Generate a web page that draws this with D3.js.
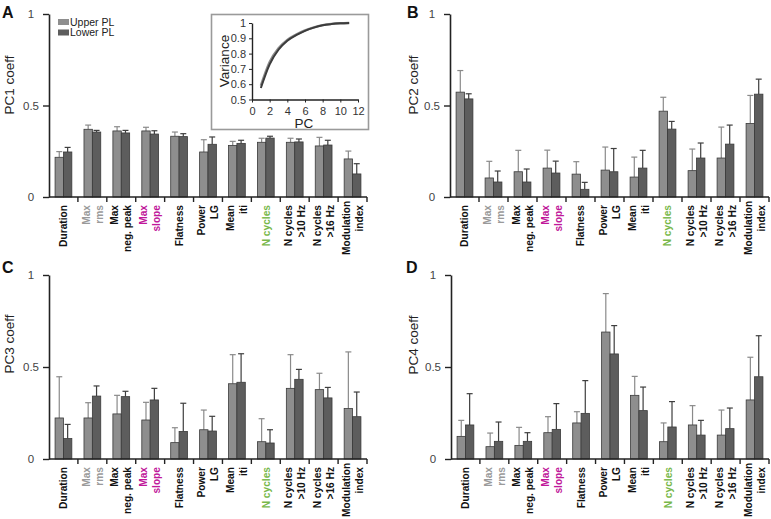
<!DOCTYPE html>
<html><head><meta charset="utf-8">
<script src="https://cdn.jsdelivr.net/npm/d3@7"></script>
<style>
body{margin:0;background:#fff;}
svg{font-family:"Liberation Sans",Arial,sans-serif;}
</style></head>
<body><svg id="c" width="771" height="519"></svg>
<script>
// ---------- DATA ----------
const categories = ["Duration","Max rms","Max neg. peak","Max slope","Flatness","Power LG","Mean iti","N cycles","N cycles >10 Hz","N cycles >16 Hz","Modulation index"];
const labelLines = [["Duration"],["Max","rms"],["Max","neg. peak"],["Max","slope"],["Flatness"],["Power","LG"],["Mean","iti"],["N cycles"],["N cycles",">10 Hz"],["N cycles",">16 Hz"],["Modulation","index"]];
const labelColors = ["#111","#9a9a9a","#111","#c0189a","#111","#111","#111","#78b84a","#111","#111","#111"];
const seriesNames = ["Upper PL","Lower PL"];

const pc1Upper    = [0.217,0.370,0.361,0.361,0.332,0.246,0.282,0.299,0.299,0.279,0.208];
const pc1UpperErr = [0.248,0.393,0.384,0.381,0.355,0.313,0.304,0.321,0.321,0.326,0.251];
const pc1Lower    = [0.246,0.355,0.350,0.344,0.330,0.288,0.293,0.322,0.301,0.284,0.126];
const pc1LowerErr = [0.271,0.364,0.364,0.362,0.346,0.328,0.310,0.332,0.317,0.310,0.182];

const pc2Upper    = [0.573,0.104,0.138,0.158,0.125,0.147,0.109,0.469,0.144,0.213,0.402];
const pc2UpperErr = [0.691,0.195,0.255,0.256,0.193,0.273,0.218,0.545,0.262,0.382,0.555];
const pc2Lower    = [0.536,0.082,0.082,0.131,0.042,0.138,0.158,0.371,0.213,0.289,0.562];
const pc2LowerErr = [0.564,0.142,0.153,0.196,0.080,0.265,0.255,0.413,0.295,0.393,0.644];

const pc3Upper    = [0.223,0.223,0.245,0.212,0.089,0.159,0.409,0.094,0.384,0.377,0.274];
const pc3UpperErr = [0.447,0.306,0.346,0.308,0.170,0.266,0.567,0.219,0.567,0.466,0.582];
const pc3Lower    = [0.111,0.342,0.339,0.321,0.150,0.152,0.417,0.087,0.433,0.332,0.230];
const pc3LowerErr = [0.188,0.397,0.368,0.384,0.303,0.232,0.572,0.159,0.487,0.389,0.364];

const pc4Upper    = [0.123,0.067,0.074,0.143,0.196,0.690,0.346,0.094,0.185,0.130,0.321];
const pc4UpperErr = [0.210,0.141,0.172,0.230,0.257,0.899,0.449,0.196,0.290,0.266,0.553];
const pc4Lower    = [0.185,0.096,0.096,0.161,0.248,0.571,0.263,0.174,0.130,0.165,0.447];
const pc4LowerErr = [0.355,0.201,0.143,0.301,0.426,0.725,0.391,0.312,0.210,0.277,0.670];

const yTicks = [0,0.5,1];
const yTickLabels = ["0","0.5","1"];

const insetPC = [1,2,3,4,5,6,7,8,9,10,11];
const insetUpper = [0.590,0.745,0.835,0.890,0.925,0.952,0.972,0.986,0.994,0.998,1.000];
const insetLower = [0.575,0.730,0.825,0.884,0.920,0.949,0.970,0.985,0.993,0.998,1.000];
const insetXTicks = [0,2,4,6,8,10,12];
const insetYTicks = [0.5,0.6,0.7,0.8,0.9,1];
const insetYTickLabels = ["0.5","0.6","0.7","0.8","0.9","1"];

// ---------- DRAW ----------
const svg = d3.select("#c");
const fillC = ["#8e8e8e","#5d5d5d"];
const errC = ["#8a8a8a","#3e3e3e"];

function panel(o){
  const g = svg.append("g");
  const x = d3.scaleBand().domain(categories).range([o.x0,o.x1]).paddingInner(0.42).paddingOuter(0.21);
  const xs = d3.scaleBand().domain(seriesNames).range([0,x.bandwidth()]);
  const y = d3.scaleLinear().domain([0,1]).range([o.y0,o.y1]);
  const vals = [o.up,o.lo], errs=[o.upE,o.loE];
  const step = x.step();

  seriesNames.forEach((s,si)=>{
    const data = categories.map((c,i)=>({c,v:vals[si][i],e:errs[si][i]}));
    const cxf = d=>x(d.c)+xs(s)+xs.bandwidth()/2;
    g.selectAll(null).data(data).enter().append("line")
      .attr("x1",cxf).attr("x2",cxf)
      .attr("y1",d=>y(d.v)).attr("y2",d=>y(d.e))
      .attr("stroke",errC[si]).attr("stroke-width",1.2);
    g.selectAll(null).data(data).enter().append("line")
      .attr("x1",d=>cxf(d)-3).attr("x2",d=>cxf(d)+3)
      .attr("y1",d=>y(d.e)).attr("y2",d=>y(d.e))
      .attr("stroke",errC[si]).attr("stroke-width",1.2);
    g.selectAll(null).data(data).enter().append("rect")
      .attr("x",d=>x(d.c)+xs(s)).attr("width",xs.bandwidth())
      .attr("y",d=>y(d.v)).attr("height",d=>y(0)-y(d.v))
      .attr("fill",fillC[si]).attr("stroke","#3a3a3a").attr("stroke-width",0.8);
  });

  const ya = d3.axisLeft(y).tickValues(yTicks).tickFormat((d,i)=>yTickLabels[i]).tickSize(6).tickSizeOuter(0);
  const yg = g.append("g").attr("transform",`translate(${o.x0},0)`).call(ya);
  yg.select(".domain").attr("stroke","#222").attr("stroke-width",1.6);
  yg.selectAll(".tick line").attr("stroke","#222").attr("stroke-width",1.4);
  yg.selectAll(".tick text").attr("x",-18).attr("text-anchor","middle").attr("font-size",11.5).attr("fill","#444").attr("font-family","Liberation Sans, Arial");

  g.append("line").attr("x1",o.x0).attr("x2",o.x1).attr("y1",o.y0).attr("y2",o.y0).attr("stroke","#222").attr("stroke-width",1.6);
  g.selectAll(null).data(categories).enter().append("line")
    .attr("x1",(d,i)=>o.x0+(i+1)*step).attr("x2",(d,i)=>o.x0+(i+1)*step)
    .attr("y1",o.y0).attr("y2",o.y0+5).attr("stroke","#222").attr("stroke-width",1.4);

  categories.forEach((c,i)=>{
    const cx = x(c)+x.bandwidth()/2;
    const lines = labelLines[i];
    const n = lines.length;
    lines.forEach((t,li)=>{
      const off = n===1?0:(li===0?-6.5:6.5);
      const tx = g.append("text").attr("transform",`translate(${cx+off},${o.y0+8}) rotate(-90)`)
        .attr("text-anchor","end").attr("dy","0.36em")
        .attr("font-size",10.2).attr("font-weight","bold").attr("fill",labelColors[i]).text(t);
      const len = tx.node().getComputedTextLength();
      const maxBottom = o.y0 + 58;
      if (o.y0 + 8 + len > maxBottom) {
        tx.attr("transform",`translate(${cx+off},${maxBottom-len}) rotate(-90)`);
      }
    });
  });

  g.append("text").attr("transform",`translate(${o.ylx},${o.yly}) rotate(-90)`)
    .attr("text-anchor","middle").attr("font-size",13.5).attr("fill","#222").text(o.ylabel);
  g.append("text").attr("x",o.lx).attr("y",o.ly).attr("font-size",16).attr("font-weight","bold").attr("fill","#111").text(o.letter);
}

panel({x0:49,x1:367,y0:197,y1:14,up:pc1Upper,upE:pc1UpperErr,lo:pc1Lower,loE:pc1LowerErr,ylabel:"PC1 coeff",ylx:14,yly:85,letter:"A",lx:2,ly:18});
panel({x0:450,x1:769,y0:197,y1:14,up:pc2Upper,upE:pc2UpperErr,lo:pc2Lower,loE:pc2LowerErr,ylabel:"PC2 coeff",ylx:418,yly:85,letter:"B",lx:407,ly:18});
panel({x0:49,x1:367,y0:459,y1:275,up:pc3Upper,upE:pc3UpperErr,lo:pc3Lower,loE:pc3LowerErr,ylabel:"PC3 coeff",ylx:14,yly:344,letter:"C",lx:2,ly:273});
panel({x0:451,x1:769,y0:459,y1:275,up:pc4Upper,upE:pc4UpperErr,lo:pc4Lower,loE:pc4LowerErr,ylabel:"PC4 coeff",ylx:418,yly:345,letter:"D",lx:406,ly:273});

// legend (panel A)
const leg = svg.append("g");
seriesNames.forEach((s,i)=>{
  leg.append("rect").attr("x",58).attr("y",19+i*10.5).attr("width",11).attr("height",6).attr("fill",fillC[i]);
  leg.append("text").attr("x",70).attr("y",25.5+i*10.5).attr("font-size",10.5).attr("fill","#222").text(s);
});

// inset
const ig = svg.append("g");
ig.append("rect").attr("x",211.5).attr("y",14.5).attr("width",157).attr("height",115).attr("fill","#fff").attr("stroke","#9a9a9a").attr("stroke-width",1.6);
const ix = d3.scaleLinear().domain([0,12]).range([252,358]);
const iy = d3.scaleLinear().domain([0.5,1]).range([99.5,23]);
const ixa = ig.append("g").attr("transform","translate(0,99.5)").call(d3.axisBottom(ix).tickValues(insetXTicks).tickSize(3).tickSizeOuter(0));
const iya = ig.append("g").attr("transform","translate(252,0)").call(d3.axisLeft(iy).tickValues(insetYTicks).tickFormat((d,i)=>insetYTickLabels[i]).tickSize(3).tickSizeOuter(0));
[ixa,iya].forEach(a=>{
  a.select(".domain").attr("stroke","#222").attr("stroke-width",1.4);
  a.selectAll(".tick line").attr("stroke","#222");
  a.selectAll(".tick text").attr("font-size",11).attr("fill","#333").attr("font-family","Liberation Sans, Arial");
});
ixa.selectAll(".tick text").attr("dy","0.9em");
const ln = d3.line().x((d,i)=>ix(insetPC[i])).y(d=>iy(d)).curve(d3.curveMonotoneX);
ig.append("path").attr("d",ln(insetUpper)).attr("fill","none").attr("stroke","#8a8a8a").attr("stroke-width",2.4);
ig.append("path").attr("d",ln(insetLower)).attr("fill","none").attr("stroke","#3c3c3c").attr("stroke-width",2);
ig.append("text").attr("transform","translate(229,61) rotate(-90)").attr("text-anchor","middle").attr("font-size",13.5).attr("fill","#222").text("Variance");
ig.append("text").attr("x",304).attr("y",128).attr("text-anchor","middle").attr("font-size",13.5).attr("fill","#222").text("PC");
</script></body></html>
